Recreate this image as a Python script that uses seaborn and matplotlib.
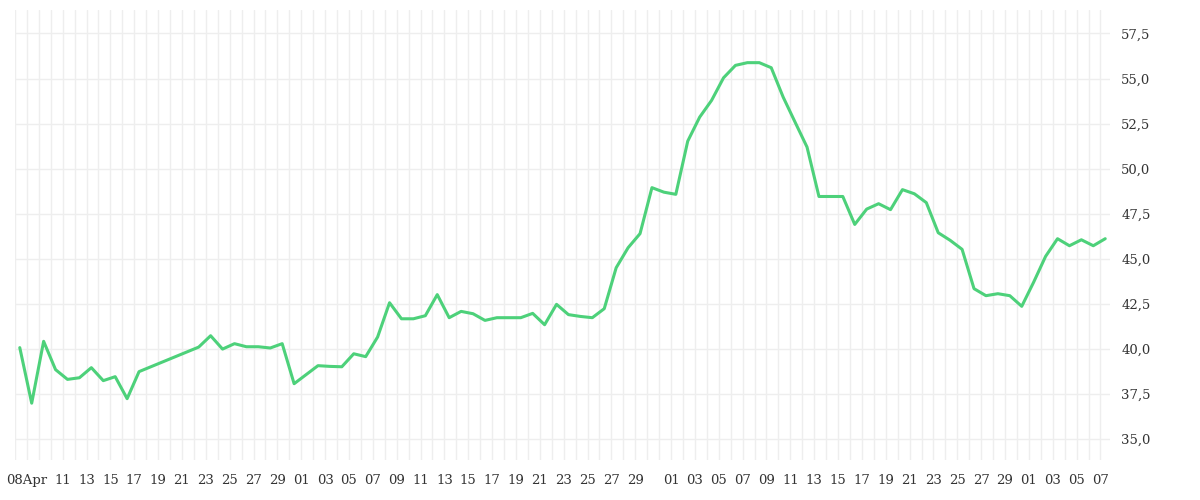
import matplotlib
matplotlib.use("Agg")
from matplotlib import pyplot as plt
from matplotlib import ticker
import matplotlib.dates as mdates
import numpy as np
import pandas as pd
import seaborn as sns

# day offsets from 07 Apr (missing days simply skipped)
day_index = [0, 1, 2, 3, 4, 5, 6, 7, 8, 9, 10,
             15, 16, 17, 18, 19, 20, 21, 22, 23,
             25, 26, 27, 28, 29, 30, 31, 32, 33, 34, 35, 36, 37, 38, 39, 40,
             41, 42, 43, 44, 45, 46, 47, 48, 49, 50, 51, 52, 53, 54, 55, 56,
             57, 58, 59, 60, 61, 62, 63, 64, 65, 66, 67, 68, 69, 70, 71, 72,
             73, 74, 75, 76, 77, 78, 79, 80, 81, 82, 83, 84, 85, 86, 87, 88,
             89, 90, 91]
values = [40.08, 37.0, 40.43, 38.86, 38.32, 38.41, 38.97, 38.25, 38.47, 37.25, 38.75,
          40.11, 40.74, 40.0, 40.30, 40.13, 40.13, 40.06, 40.30, 38.08,
          39.08, 39.04, 39.02, 39.74, 39.58, 40.67, 42.57, 41.68, 41.68, 41.85, 43.02, 41.74,
          42.09, 41.96, 41.59, 41.74, 41.74, 41.74, 41.98, 41.35, 42.48, 41.91, 41.81, 41.74,
          42.24, 44.51, 45.62, 46.40, 48.95, 48.70, 48.58, 51.53, 52.86, 53.79, 55.04, 55.73,
          55.88, 55.88, 55.60, 53.97, 52.58, 51.20, 48.46, 48.46, 48.46, 46.91, 47.76, 48.06,
          47.73, 48.84, 48.61, 48.12, 46.45, 46.03, 45.53, 43.35, 42.96, 43.07, 42.96, 42.37,
          43.71, 45.14, 46.12, 45.73, 46.06, 45.73, 46.12]
y_ticks = [35.0, 37.5, 40.0, 42.5, 45.0, 47.5, 50.0, 52.5, 55.0, 57.5]

start = pd.Timestamp("2024-04-07")
df = pd.DataFrame({
    "date": start + pd.to_timedelta(np.array(day_index) + 0.4, unit="D"),
    "value": values,
})

# tick labels: 08Apr, then odd days of each month up to 29
tick_dates = [pd.Timestamp("2024-04-08")]
for month, first in [(4, 11), (5, 1), (6, 1), (7, 1)]:
    last = 29 if month != 7 else 7
    for d in range(first, last + 1, 2):
        tick_dates.append(pd.Timestamp(2024, month, d))
tick_labels = ["08Apr"] + [f"{t.day:02d}" for t in tick_dates[1:]]

sns.set_style("white")
plt.rcParams["font.family"] = ["DejaVu Serif"]

fig = plt.figure(figsize=(12, 5), dpi=100)
ax = fig.add_axes([0.0125, 0.08, 0.9125, 0.90])

sns.lineplot(df, x="date", y="value", ax=ax, color="#4dd17a", linewidth=2.2)

ax.set_xlim(start, start + pd.Timedelta(days=91.8))
ax.set_ylim(33.85, 58.8)
ax.set_xticks(tick_dates)
ax.set_xticklabels(tick_labels)
ax.xaxis.set_minor_locator(mdates.DayLocator())
ax.set_yticks(y_ticks)
ax.yaxis.set_major_formatter(ticker.FuncFormatter(lambda v, p: f"{v:.1f}".replace(".", ",")))
ax.yaxis.tick_right()

ax.grid(True, which="both", axis="x", color="#eeeeee", linewidth=1)
ax.grid(True, which="major", axis="y", color="#eeeeee", linewidth=1)
ax.set_axisbelow(True)
ax.tick_params(axis="x", which="both", length=6, color="#e6e6e6", labelsize=9.5, labelcolor="#333333", pad=4)
ax.tick_params(axis="y", length=0, labelsize=9.5, labelcolor="#333333", pad=8)
for s in ax.spines.values():
    s.set_visible(False)
ax.set_xlabel("")
ax.set_ylabel("")

fig.savefig("out.png", dpi=100)
